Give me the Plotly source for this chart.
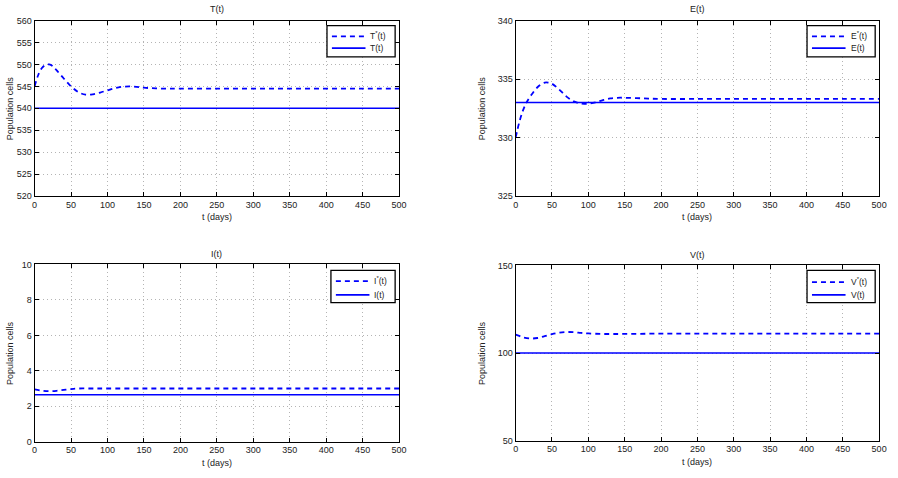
import plotly.graph_objects as go

# ---- data ----
t_T = [0, 5, 10, 15, 20, 25, 30, 40, 50, 60, 70, 80, 90, 100, 110, 120, 130, 140, 150,
       175, 200, 250, 300, 350, 400, 450, 500]
T_star = [545.0, 547.6, 549.2, 549.9, 550.0, 549.6, 548.7, 546.8, 545.0, 543.7, 543.1, 543.2,
          543.6, 544.1, 544.6, 544.9, 545.0, 544.9, 544.7, 544.5, 544.5, 544.5, 544.5, 544.5,
          544.5, 544.5, 544.5]
T_const = [540.0] * len(t_T)

t_E = [0, 5, 10, 15, 20, 30, 40, 45, 50, 60, 70, 80, 90, 100, 110, 120, 130, 140, 150,
       175, 200, 250, 300, 350, 400, 450, 500]
E_star = [330.0, 331.3, 332.3, 333.0, 333.5, 334.3, 334.7, 334.7, 334.6, 334.1, 333.5, 333.1,
          332.9, 332.9, 333.0, 333.2, 333.35, 333.4, 333.4, 333.35, 333.3, 333.3, 333.3, 333.3,
          333.3, 333.3, 333.3]
E_const = [333.0] * len(t_E)

t_I = [0, 10, 20, 30, 40, 50, 60, 80, 100, 150, 200, 250, 300, 350, 400, 450, 500]
I_star = [2.95, 2.88, 2.85, 2.87, 2.92, 2.97, 3.0, 3.0, 3.0, 3.0, 3.0, 3.0, 3.0, 3.0, 3.0, 3.0, 3.0]
I_const = [2.65] * len(t_I)

t_V = [0, 5, 10, 20, 30, 40, 50, 60, 70, 80, 90, 100, 120, 150, 200, 250, 300, 350, 400, 450, 500]
V_star = [110.5, 109.8, 109.0, 108.3, 108.6, 109.6, 110.8, 111.6, 112.0, 111.9, 111.5, 111.2,
          110.9, 110.9, 111.1, 111.1, 111.1, 111.1, 111.1, 111.1, 111.1]
V_const = [100.0] * len(t_V)

panels = [
    dict(title="T(t)", t=t_T, star=T_star, const=T_const, sym="T", yr=[520, 560], dt=5),
    dict(title="E(t)", t=t_E, star=E_star, const=E_const, sym="E", yr=[325, 340], dt=5),
    dict(title="I(t)", t=t_I, star=I_star, const=I_const, sym="I", yr=[0, 10], dt=2),
    dict(title="V(t)", t=t_V, star=V_star, const=V_const, sym="V", yr=[50, 150], dt=50),
]

W, H = 898, 478
# plot boxes in pixels: (x0, x1, ytop, ybottom, ylabel offset, title offset)
boxes = [(32, 401, 16, 195, 25, 12), (519, 887, 16, 195, 34, 12),
         (32, 401, 265, 446, 25, 11), (519, 887, 266, 445, 34, 11)]
# legend boxes in pixels: (x0, x1, ytop, ybottom, row1, row2)
legboxes = [(328, 397, 21, 53, 32, 44), (814, 883, 21, 53, 32, 44),
            (332, 397, 271, 304, 282, 296), (814, 883, 271, 304, 283, 296)]

FONT = "Liberation Sans, Arial, Helvetica, sans-serif"
blue = "#0000ff"
DASH = "5px,4px"

fig = go.Figure()
annotations = []
shapes = []


def px(x):
    return x / W


def py(y):
    return 1 - y / H


for i, (p, b, lb) in enumerate(zip(panels, boxes, legboxes)):
    n = i + 1
    xa = "x" if n == 1 else f"x{n}"
    ya = "y" if n == 1 else f"y{n}"
    fig.add_trace(go.Scatter(x=p["t"], y=p["star"], mode="lines", line_shape="spline",
                             line=dict(color=blue, width=1.8, dash=DASH),
                             name=f"{p['sym']}*(t)", xaxis=xa, yaxis=ya, showlegend=False))
    fig.add_trace(go.Scatter(x=p["t"], y=p["const"], mode="lines",
                             line=dict(color=blue, width=1.6),
                             name=f"{p['sym']}(t)", xaxis=xa, yaxis=ya, showlegend=False))
    x0, x1, yt, yb, yloff, toff = b
    axcommon = dict(showline=True, linecolor="black", linewidth=1, mirror="allticks",
                    ticks="inside", ticklen=4, tickcolor="black",
                    showgrid=True, gridcolor="#b4b4b4", griddash="1px,3px", gridwidth=1,
                    zeroline=False, tickfont=dict(size=9, color="#222222", family=FONT))
    fig.layout[f"xaxis{'' if n == 1 else n}"] = dict(
        axcommon, domain=[px(x0), px(x1)], anchor=ya, range=[0, 500], dtick=50, tick0=0)
    fig.layout[f"yaxis{'' if n == 1 else n}"] = dict(
        axcommon, domain=[py(yb), py(yt)], anchor=xa, range=p["yr"], dtick=p["dt"])

    cx = px((x0 + x1) / 2)
    tf = dict(size=9, family=FONT, color="#222222")
    annotations.append(dict(text=p["title"], x=cx, y=py(yt - toff), xref="paper", yref="paper",
                            xanchor="center", yanchor="middle", showarrow=False, font=tf))
    annotations.append(dict(text="t (days)", x=cx, y=py(yb + 22), xref="paper", yref="paper",
                            xanchor="center", yanchor="middle", showarrow=False, font=tf))
    annotations.append(dict(text="Population cells", x=px(x0 - yloff), y=py((yt + yb) / 2),
                            xref="paper", yref="paper", textangle=-90, showarrow=False,
                            xanchor="center", yanchor="middle", font=tf))

    # legend box (drawn as a boxed key like the original)
    lx0, lx1, lyt, lyb, r1, r2 = lb
    shapes.append(dict(type="rect", xref="paper", yref="paper", x0=px(lx0), x1=px(lx1),
                       y0=py(lyb), y1=py(lyt), line=dict(color="black", width=1.3),
                       fillcolor="white", layer="above"))
    sx0, sx1 = lx0 + 5, lx0 + 39
    for r, dash in ((r1, DASH), (r2, "solid")):
        shapes.append(dict(type="line", xref="paper", yref="paper", x0=px(sx0), x1=px(sx1),
                           y0=py(r), y1=py(r), line=dict(color=blue, width=1.8, dash=dash),
                           layer="above"))
    lf = dict(size=8.5, family=FONT, color="#222222")
    annotations.append(dict(text=f"{p['sym']}<sup>*</sup>(t)", x=px(sx1 + 3), y=py(r1 - 1),
                            xref="paper", yref="paper", xanchor="left", yanchor="middle",
                            showarrow=False, font=lf))
    annotations.append(dict(text=f"{p['sym']}(t)", x=px(sx1 + 3), y=py(r2),
                            xref="paper", yref="paper", xanchor="left", yanchor="middle",
                            showarrow=False, font=lf))

fig.update_layout(width=W, height=H, margin=dict(l=0, r=0, t=0, b=0),
                  paper_bgcolor="white", plot_bgcolor="white",
                  annotations=annotations, shapes=shapes, showlegend=False)
fig.write_html("out.html")
